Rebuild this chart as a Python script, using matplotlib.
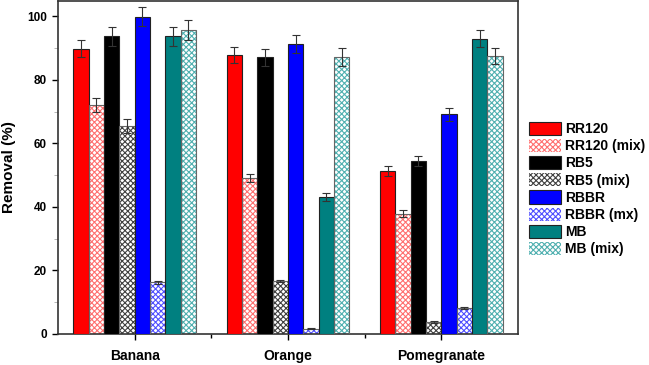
import numpy as np
import matplotlib.pyplot as plt
from matplotlib.patches import Patch
from matplotlib.ticker import MultipleLocator, FixedLocator

categories = ["Banana", "Orange", "Pomegranate"]
series = ["RR120", "RR120 (mix)", "RB5", "RB5 (mix)", "RBBR", "RBBR (mx)", "MB", "MB (mix)"]

rr120 = [89.8, 87.9, 51.3]
rr120_mix = [72.1, 49.2, 37.9]
rb5 = [93.7, 87.1, 54.4]
rb5_mix = [65.6, 16.7, 3.9]
rbbr = [99.9, 91.4, 69.2]
rbbr_mix = [16.3, 1.7, 8.2]
mb = [93.7, 43.1, 93.0]
mb_mix = [95.7, 87.2, 87.4]

rr120_err = [2.7, 2.6, 1.5]
rr120_mix_err = [2.2, 1.2, 1.0]
rb5_err = [3.0, 2.6, 1.6]
rb5_mix_err = [2.2, 0.4, 0.3]
rbbr_err = [3.0, 2.8, 2.1]
rbbr_mix_err = [0.5, 0.2, 0.3]
mb_err = [3.0, 1.2, 2.7]
mb_mix_err = [3.0, 2.7, 2.5]

values = [rr120, rr120_mix, rb5, rb5_mix, rbbr, rbbr_mix, mb, mb_mix]
errors = [rr120_err, rr120_mix_err, rb5_err, rb5_mix_err, rbbr_err, rbbr_mix_err, mb_err, mb_mix_err]
colors = ["#ff0000", "#ff7070", "#000000", "#404040", "#0000ff", "#5050ff", "#008080", "#50b0b0"]
hatched = [False, True, False, True, False, True, False, True]

plt.rcParams['font.family'] = ['Liberation Sans', 'DejaVu Sans']
plt.rcParams['hatch.linewidth'] = 0.8

fig = plt.figure(figsize=(6.49, 3.65), dpi=100)
ax = fig.add_axes([0.0894, 0.085, 0.7088, 0.912])

x = np.arange(1, len(categories) + 1)
width = 0.1
handles = []
for i, (name, vals, errs, col, h) in enumerate(zip(series, values, errors, colors, hatched)):
    pos = x + (i - 3.5) * width
    if h:
        # hatch takes the edge colour, so draw the outline separately
        ax.bar(pos, vals, width, color="white", edgecolor=col, hatch="xxxxxx", linewidth=0, zorder=2)
        ax.bar(pos, vals, width, fill=False, edgecolor="#666666", linewidth=0.8, zorder=3)
        handles.append(Patch(facecolor="white", edgecolor=col, hatch="xxxxxx", linewidth=0))
    else:
        ax.bar(pos, vals, width, color=col, edgecolor="#222222", linewidth=0.8, zorder=3)
        handles.append(Patch(facecolor=col, edgecolor="#222222", linewidth=0.8))
    ax.errorbar(pos, vals, yerr=errs, fmt="none", ecolor="#333333", elinewidth=0.8,
                capsize=3, capthick=0.8, zorder=4)

ax.set_xlim(0.5, 3.5)
ax.set_ylim(0, 104.8)
ax.set_xticks(x)
ax.set_xticklabels(categories, fontweight="bold", fontsize=10)
ax.xaxis.set_minor_locator(FixedLocator([1.5, 2.5]))
ax.yaxis.set_major_locator(MultipleLocator(20))
ax.yaxis.set_minor_locator(MultipleLocator(10))
ax.tick_params(axis="x", which="major", direction="out", length=4.5, width=1, pad=6)
ax.tick_params(axis="x", which="minor", direction="out", length=3, width=1)
ax.tick_params(axis="y", which="major", direction="out", length=4.5, width=1, labelsize=8.5)
ax.tick_params(axis="y", which="minor", direction="out", length=3, width=0.6, color="#aaaaaa")
for lbl in ax.get_yticklabels():
    lbl.set_fontweight("bold")
ax.set_ylabel("Removal (%)", fontweight="bold", fontsize=11, labelpad=8)
for s in ax.spines.values():
    s.set_linewidth(1.2)
    s.set_color("#333333")

fig.legend(handles, series, loc="upper left", bbox_to_anchor=(0.815, 0.667), frameon=False,
           prop={"weight": "bold", "size": 10}, handlelength=2.3, handleheight=1.08,
           labelspacing=0.21, handletextpad=0.3, borderaxespad=0, borderpad=0)

fig.savefig("out.png", dpi=100)
